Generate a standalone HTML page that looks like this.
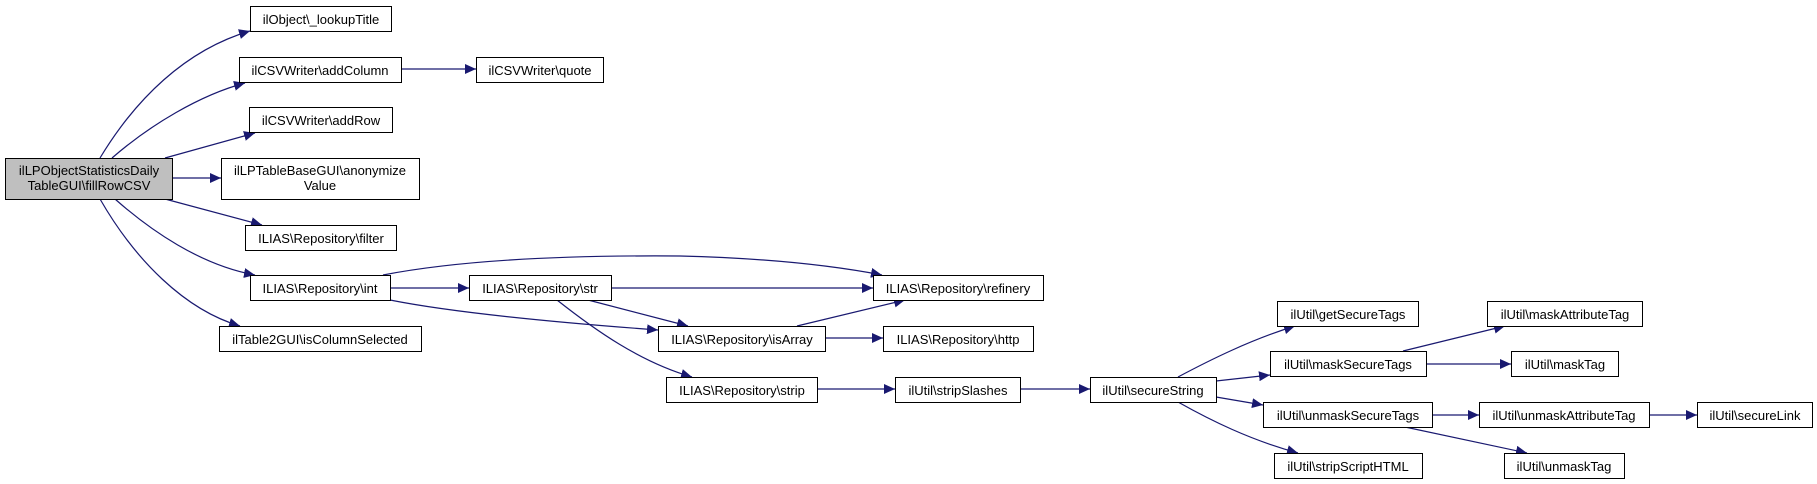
<!DOCTYPE html>
<html><head><meta charset="utf-8"><style>
html,body{margin:0;padding:0;background:#fff;}
svg{display:block;}
text{font-family:"Liberation Sans",Arial,sans-serif;font-size:13px;fill:#000;}
</style></head><body>
<svg width="1817" height="484" viewBox="0 0 1817 484" xmlns="http://www.w3.org/2000/svg">
<defs>
<marker id="a" markerUnits="userSpaceOnUse" markerWidth="12" markerHeight="10" refX="11" refY="5" orient="auto">
<path d="M0,0 L11,5 L0,10 z" fill="#191970"/>
</marker>
</defs>
<g fill="none" stroke="#191970" stroke-width="1.2" marker-end="url(#a)">
<path d="M100,158 C135,100 185,50 250,31"/>
<path d="M112,158 C150,125 200,95 245,83"/>
<path d="M165,158 L255,133"/>
<path d="M172,178 L221,178"/>
<path d="M165,199 L262,225"/>
<path d="M115,199 C150,230 200,265 255,275"/>
<path d="M100,199 C135,260 185,310 240,326"/>
<path d="M401,69 L476,69"/>
<path d="M383,275 C450,262 550,255 680,256 C760,258 830,265 882,275"/>
<path d="M390,288 L469,288"/>
<path d="M390,300 C450,312 550,322 658,330"/>
<path d="M611,288 L873,288"/>
<path d="M588,300 L688,326"/>
<path d="M557,300 C595,330 640,362 692,377"/>
<path d="M797,326 L905,300"/>
<path d="M825,338 L883,338"/>
<path d="M817,389 L895,389"/>
<path d="M1020,389 L1090,389"/>
<path d="M1178,377 C1210,360 1250,340 1295,326"/>
<path d="M1216,381 L1270,375"/>
<path d="M1216,397 L1263,405"/>
<path d="M1178,402 C1210,420 1250,440 1298,453"/>
<path d="M1403,351 L1505,326"/>
<path d="M1426,364 L1511,364"/>
<path d="M1432,415 L1479,415"/>
<path d="M1405,427 L1527,453"/>
<path d="M1649,415 L1697,415"/>
</g>
<g stroke="#000" stroke-width="1" fill="#fff">
<rect x="5.5" y="158.5" width="167" height="41" fill="#bfbfbf"/>
<rect x="250.5" y="6.5" width="141" height="25"/>
<rect x="239.5" y="57.5" width="162" height="25"/>
<rect x="476.5" y="57.5" width="127" height="25"/>
<rect x="249.5" y="107.5" width="143" height="25"/>
<rect x="221.5" y="158.5" width="198" height="41"/>
<rect x="245.5" y="225.5" width="151" height="25"/>
<rect x="250.5" y="275.5" width="140" height="25"/>
<rect x="219.5" y="326.5" width="202" height="25"/>
<rect x="469.5" y="275.5" width="142" height="25"/>
<rect x="873.5" y="275.5" width="170" height="25"/>
<rect x="658.5" y="326.5" width="167" height="25"/>
<rect x="883.5" y="326.5" width="150" height="25"/>
<rect x="666.5" y="377.5" width="151" height="25"/>
<rect x="895.5" y="377.5" width="125" height="25"/>
<rect x="1090.5" y="377.5" width="126" height="25"/>
<rect x="1277.5" y="301.5" width="141" height="25"/>
<rect x="1270.5" y="351.5" width="156" height="25"/>
<rect x="1263.5" y="402.5" width="169" height="25"/>
<rect x="1274.5" y="453.5" width="148" height="25"/>
<rect x="1487.5" y="301.5" width="155" height="25"/>
<rect x="1511.5" y="351.5" width="107" height="25"/>
<rect x="1479.5" y="402.5" width="170" height="25"/>
<rect x="1697.5" y="402.5" width="115" height="25"/>
<rect x="1504.5" y="453.5" width="120" height="25"/>
</g>
<g text-anchor="middle">
<text x="89" y="175">ilLPObjectStatisticsDaily</text>
<text x="89" y="190">TableGUI\fillRowCSV</text>
<text x="321" y="24">ilObject\_lookupTitle</text>
<text x="320" y="75">ilCSVWriter\addColumn</text>
<text x="540" y="75">ilCSVWriter\quote</text>
<text x="321" y="125">ilCSVWriter\addRow</text>
<text x="320" y="175">ilLPTableBaseGUI\anonymize</text>
<text x="320" y="190">Value</text>
<text x="321" y="243">ILIAS\Repository\filter</text>
<text x="320" y="293">ILIAS\Repository\int</text>
<text x="320" y="344">ilTable2GUI\isColumnSelected</text>
<text x="540" y="293">ILIAS\Repository\str</text>
<text x="958" y="293">ILIAS\Repository\refinery</text>
<text x="742" y="344">ILIAS\Repository\isArray</text>
<text x="958" y="344">ILIAS\Repository\http</text>
<text x="742" y="395">ILIAS\Repository\strip</text>
<text x="958" y="395">ilUtil\stripSlashes</text>
<text x="1153" y="395">ilUtil\secureString</text>
<text x="1348" y="319">ilUtil\getSecureTags</text>
<text x="1348" y="369">ilUtil\maskSecureTags</text>
<text x="1348" y="420">ilUtil\unmaskSecureTags</text>
<text x="1348" y="471">ilUtil\stripScriptHTML</text>
<text x="1565" y="319">ilUtil\maskAttributeTag</text>
<text x="1565" y="369">ilUtil\maskTag</text>
<text x="1564" y="420">ilUtil\unmaskAttributeTag</text>
<text x="1755" y="420">ilUtil\secureLink</text>
<text x="1564" y="471">ilUtil\unmaskTag</text>
</g>
</svg>
</body></html>
